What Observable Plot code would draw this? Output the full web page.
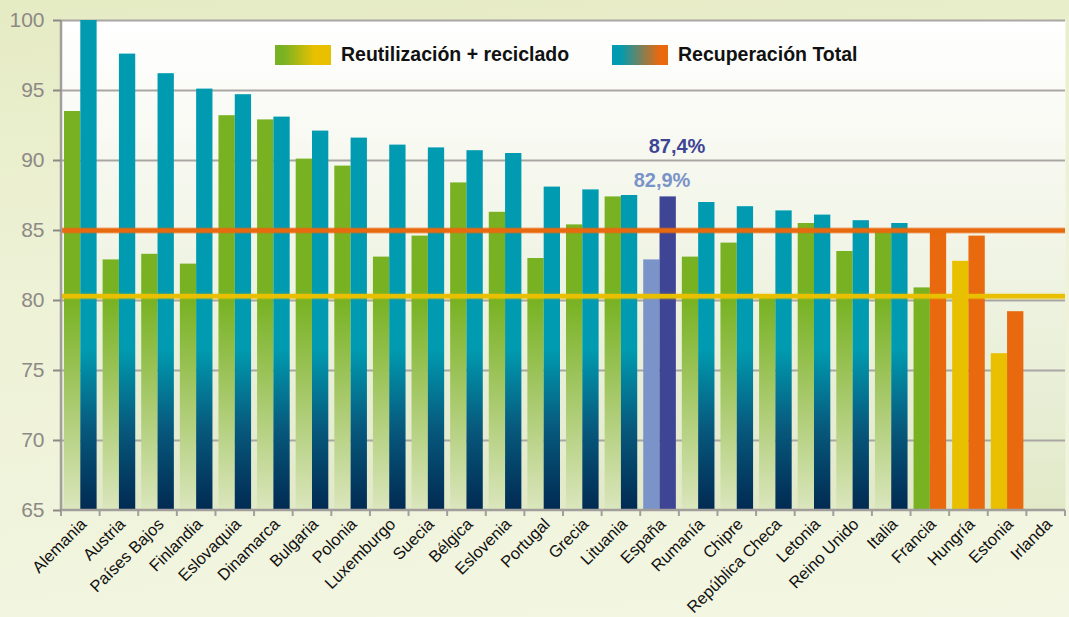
<!DOCTYPE html>
<html><head><meta charset="utf-8">
<script src="https://cdn.jsdelivr.net/npm/d3@7"></script>
<script src="https://cdn.jsdelivr.net/npm/@observablehq/plot@0.6"></script>
<style>
html,body{margin:0;padding:0;}
body{width:1069px;height:617px;overflow:hidden;background:linear-gradient(175deg,#e5ebc3 0%,#edf1d4 35%,#f3f6e2 100%);font-family:"Liberation Sans",Arial,sans-serif;}
#wrap{position:relative;width:1069px;height:617px;}
#chart svg{display:block;}
.leg{position:absolute;top:43px;display:flex;align-items:center;font-weight:bold;font-size:19.5px;color:#111;white-space:nowrap;}
.sw{width:56px;height:20px;display:inline-block;margin-right:10px;}
</style></head><body>
<div id="wrap"><div id="chart"></div></div>
<script>
// ---- data ----
const countries = ["Alemania","Austria","Países Bajos","Finlandia","Eslovaquia","Dinamarca","Bulgaria","Polonia","Luxemburgo","Suecia","Bélgica","Eslovenia","Portugal","Grecia","Lituania","España","Rumanía","Chipre","República Checa","Letonia","Reino Unido","Italia","Francia","Hungría","Estonia","Irlanda"];
const reuseRecycling = [93.5,82.9,83.3,82.6,93.2,92.9,90.1,89.6,83.1,84.6,88.4,86.3,83.0,85.4,87.4,82.9,83.1,84.1,80.2,85.5,83.5,85.0,80.9,82.8,76.2,NaN];
const totalRecovery = [100,97.6,96.2,95.1,94.7,93.1,92.1,91.6,91.1,90.9,90.7,90.5,88.1,87.9,87.5,87.4,87.0,86.7,86.4,86.1,85.7,85.5,85.0,84.6,79.2,NaN];
const yTicks = [65,70,75,80,85,90,95,100];
const refTotalRecovery = [85.0];
const refReuseRecycling = [80.3];
const seriesNames = ["Reutilización + reciclado","Recuperación Total"];
const highlight = "España";
const highlightLabels = ["87,4%","82,9%"];

// ---- styles ----
const GREEN="#78b223", TEAL="#009bb0", ORANGE="#e8690e", YELLOW="#e8c000", LBLUE="#7a93c8", DBLUE="#3e4594";
const greenFill = c => c === "España" ? LBLUE : (c === "Hungría" || c === "Estonia") ? YELLOW : c === "Francia" ? GREEN : "url(#gGreen)";
const tealFill = c => c === "España" ? DBLUE : (c === "Francia" || c === "Hungría" || c === "Estonia") ? ORANGE : "url(#gTeal)";

function defsMark(index, scales) {
  const y = scales.y;
  const defs = d3.create("svg:defs");
  const lin = (id, y1, y2, stops) => {
    const g = defs.append("linearGradient").attr("id", id).attr("gradientUnits","userSpaceOnUse")
      .attr("x1",0).attr("x2",0).attr("y1",y1).attr("y2",y2);
    for (const [o,c] of stops) g.append("stop").attr("offset",o).attr("stop-color",c);
  };
  lin("gGreen", y(80), y(65), [[0,GREEN],[0.45,"#a5c868"],[1,"#dbe6bd"]]);
  lin("gTeal", y(76.5), y(65), [[0,TEAL],[0.5,"#07587c"],[1,"#012a52"]]);
  lin("gBg", y(100), y(65), [[0,"#ffffff"],[0.3,"#f6f8ef"],[1,"#e1e9c8"]]);
  return defs.node();
}

function axisLines(index, scales) {
  const {x, y} = scales;
  const g = d3.create("svg:g").attr("stroke","#a19e9b");
  const bw = x.bandwidth();
  const y0 = y(65);
  const xs = countries.map(c => x(c)); xs.push(x(countries[countries.length-1]) + bw);
  g.append("line").attr("x1", xs[0]).attr("x2", xs[0]).attr("y1", y(100)).attr("y2", y0).attr("stroke-width", 2.5);
  g.append("line").attr("x1", xs[0]).attr("x2", xs[xs.length-1]).attr("y1", y0).attr("y2", y0).attr("stroke-width", 2.5);
  for (const xv of xs) g.append("line").attr("x1", xv).attr("x2", xv).attr("y1", y0).attr("y2", y0 + 6).attr("stroke-width", 2);
  return g.node();
}

const chart = Plot.plot({
  width: 1069, height: 617,
  marginTop: 20, marginBottom: 107, marginLeft: 61, marginRight: 4,
  x: {domain: countries, padding: 0, round: false, axis: null},
  y: {domain: [65, 100], axis: null},
  color: {type: "identity"},
  style: {fontFamily: "'Liberation Sans', Arial, sans-serif", background: "transparent", overflow: "visible"},
  marks: [
    defsMark,
    Plot.frame({fill: "url(#gBg)", stroke: "none"}),
    Plot.gridY(yTicks.slice(1), {stroke: "#a9a6a3", strokeOpacity: 1, strokeWidth: 2}),
    Plot.barY(countries, {x: d => d, y1: 65, y2: (d, i) => reuseRecycling[i], fill: d => greenFill(d), insetLeft: 3, insetRight: 19.3}),
    Plot.barY(countries, {x: d => d, y1: 65, y2: (d, i) => totalRecovery[i], fill: d => tealFill(d), insetLeft: 19.3, insetRight: 3}),
    Plot.ruleY(refTotalRecovery, {stroke: ORANGE, strokeWidth: 7, strokeOpacity: 0.25}),
    Plot.ruleY(refTotalRecovery, {stroke: ORANGE, strokeWidth: 4.5}),
    Plot.ruleY(refReuseRecycling, {stroke: YELLOW, strokeWidth: 7, strokeOpacity: 0.25}),
    Plot.ruleY(refReuseRecycling, {stroke: YELLOW, strokeWidth: 4.5}),
    axisLines,
    Plot.axisY({ticks: yTicks, tickSize: 8, tickPadding: 9, fontSize: 21, color: "#8d8985", strokeWidth: 2, label: null}),
    Plot.text([highlightLabels[0]], {x: () => highlight, y: () => totalRecovery[countries.indexOf(highlight)], text: d => d, dx: 17, dy: -50, fontSize: 20, fontWeight: "bold", fill: DBLUE}),
    Plot.text([highlightLabels[1]], {x: () => highlight, y: () => reuseRecycling[countries.indexOf(highlight)], text: d => d, dx: 2, dy: -79, fontSize: 20, fontWeight: "bold", fill: LBLUE}),
    Plot.text(countries, {x: d => d, y: 65, text: d => d, dx: 3, dy: 11, rotate: -45, textAnchor: "end", lineAnchor: "middle", fontSize: 16.5, fill: "#111"})
  ]
});
document.getElementById("chart").appendChild(chart);

const wrap = document.getElementById("wrap");
const legendDefs = [
  {name: seriesNames[0], grad: `linear-gradient(90deg, ${GREEN} 0%, ${GREEN} 15%, ${YELLOW} 70%, ${YELLOW} 100%)`, left: 275},
  {name: seriesNames[1], grad: `linear-gradient(90deg, ${TEAL} 0%, ${TEAL} 15%, ${ORANGE} 85%, ${ORANGE} 100%)`, left: 612}
];
for (const l of legendDefs) {
  const d = document.createElement("div");
  d.className = "leg"; d.style.left = l.left + "px";
  const s = document.createElement("span"); s.className = "sw"; s.style.background = l.grad;
  const t = document.createElement("span"); t.textContent = l.name;
  d.appendChild(s); d.appendChild(t); wrap.appendChild(d);
}
</script>
</body></html>
